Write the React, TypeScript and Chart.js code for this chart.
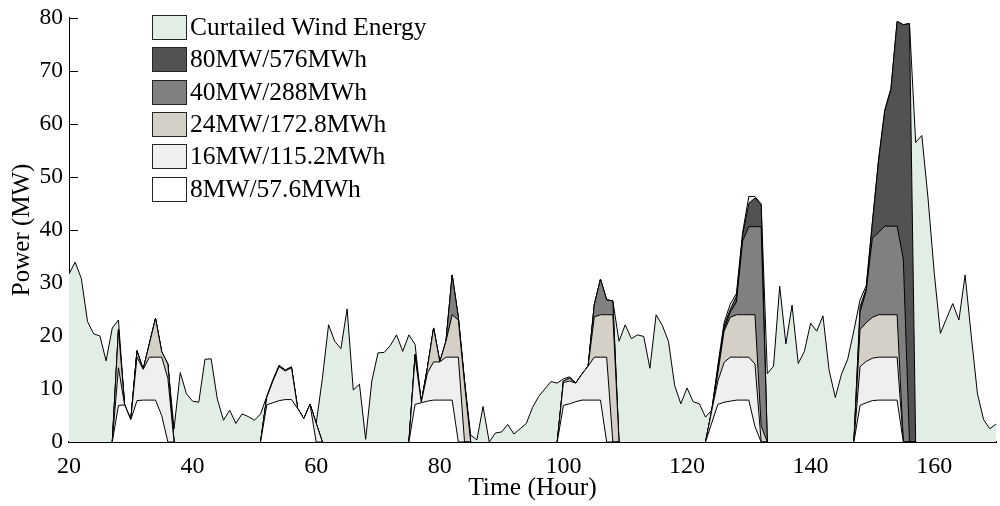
import React, { useEffect, useRef } from 'react';
import { Chart, registerables } from 'chart.js';
Chart.register(...registerables);

const FONT = "'Liberation Serif', 'Times New Roman', serif";

// Hours 20..170, one value per hour
const START_HOUR = 20;
const CURTAILED = [
  31.7, 33.9, 30.8, 22.7, 20.4, 20, 15.3, 21.5, 23, 7, // 20-29
  4.2, 17.3, 13.7, 18.5, 23.3, 17, 14.7, 2.5, 13.1, 9.1, // 30-39
  7.7, 7.5, 15.6, 15.7, 8.1, 4.1, 6.0, 3.5, 5.3, 4.8, // 40-49
  4.1, 5.3, 8.6, 11.8, 14.5, 13.6, 14.2, 6.3, 4.4, 7.1, // 50-59
  3.5, 12, 22.1, 19, 17.6, 25.1, 9.8, 10.9, 0.5, 11.5, // 60-69
  16.8, 16.9, 18.2, 20.2, 17.1, 20.2, 18.4, 7.5, 14, 21.5, // 70-79
  15.1, 19, 31.5, 23.5, 11.5, 1.3, 0.4, 6.7, 0, 1.7, // 80-89
  1.9, 3.3, 1.5, 2.5, 3.5, 6.5, 8.6, 10, 11.4, 11.1, // 90-99
  11.9, 12.3, 11.1, 12.8, 14.3, 25.9, 30.7, 26.8, 26.6, 19, // 100-109
  22.1, 19.5, 20.2, 19.9, 13.9, 24, 22, 19, 10.7, 7.2, // 110-119
  10.2, 7.6, 7.2, 4.7, 6.0, 14.5, 22.5, 26, 28, 39.5, // 120-129
  46.3, 46.3, 44.9, 12.9, 14.3, 29.4, 18.5, 25.8, 14.8, 17.1, // 130-139
  22.4, 20.9, 23.8, 13.5, 8.4, 12.8, 15.6, 21, 26.8, 29.5, // 140-149
  41.5, 53.3, 62.6, 66.7, 79.3, 78.7, 78.9, 56.5, 57.8, 46, // 150-159
  32, 20.5, 23.3, 26.1, 23, 31.5, 20, 9.1, 4.2, 2.5, // 160-169
  3.4, // 170
];

// Storage charging windows: each segment covers 11 hours starting at the given hour
const SEGMENT_STARTS = [27, 51, 75, 99, 123, 147];

const S8 = [
  [0, 6.9, 7.0, 4.2, 7.8, 7.9, 7.9, 7.9, 5.0, 0, 0],
  [0, 7.0, 7.4, 7.8, 8.0, 8.0, 6.3, 4.4, 7.1, 0, 0],
  [0, 7.1, 7.4, 7.7, 7.9, 7.9, 7.9, 7.9, 0, 0, 0],
  [0, 6.9, 7.2, 7.6, 7.9, 7.9, 7.9, 7.9, 0, 0, 0],
  [0, 3.6, 7.1, 7.5, 7.7, 7.9, 7.9, 7.9, 2.9, 0, 0],
  [0, 6.9, 7.4, 7.8, 7.9, 7.9, 7.9, 7.9, 0, 0, 0],
];
const S16 = [
  [0, 14, 7.0, 4.2, 16, 13.7, 16, 16, 16, 12, 0],
  [0, 8.4, 11.5, 14.2, 13.4, 14, 6.3, 4.4, 7.1, 3.5, 0],
  [0, 16, 7.5, 13, 15.1, 15.1, 16, 16, 16, 0, 0],
  [0, 11.2, 11.5, 11.1, 12.8, 14.3, 16, 16, 16, 0, 0],
  [0, 5.9, 11.5, 15, 16, 16, 16, 16, 14.7, 0, 0],
  [0, 14.2, 15.2, 15.8, 16, 16, 16, 16, 0, 0, 0],
];
const S24 = [
  [0, 21.2, 7.0, 4.2, 17.1, 13.7, 18.5, 23.3, 17, 14.7, 0],
  [0, 8.4, 11.5, 14.2, 13.4, 14, 6.3, 4.4, 7.1, 3.5, 0],
  [0, 16.5, 7.5, 14, 21.5, 15.1, 19, 24, 23, 11, 0],
  [0, 11.5, 12, 11.1, 12.8, 14.3, 23.6, 24, 24, 24, 0],
  [0, 5.9, 13, 20.9, 23.5, 24, 24, 24, 24, 3, 0],
  [0, 21.2, 22.5, 23.5, 24, 24, 24, 24, 0, 0, 0],
];
const S40 = [
  [0, 21.2, 7.0, 4.2, 17.1, 13.7, 18.5, 23.3, 17, 14.7, 0],
  [0, 8.4, 11.5, 14.2, 13.4, 14, 6.3, 4.4, 7.1, 3.5, 0],
  [0, 16.5, 7.5, 14, 21.5, 15.1, 19, 31.5, 23.5, 11.5, 0],
  [0, 11.5, 12, 11.1, 12.8, 14.3, 25.9, 30.7, 26.8, 26.6, 0],
  [0, 5.9, 13.5, 21.2, 24.5, 26.4, 37.9, 40.6, 40.6, 40.6, 0],
  [0, 24.5, 28.5, 38.5, 39.5, 40.7, 40.7, 40.7, 34.5, 0, 0],
];
const S80 = [
  [0, 21.2, 7.0, 4.2, 17.1, 13.7, 18.5, 23.3, 17, 14.7, 0],
  [0, 8.4, 11.5, 14.2, 13.4, 14, 6.3, 4.4, 7.1, 3.5, 0],
  [0, 16.5, 7.5, 14, 21.5, 15.1, 19, 31.5, 23.5, 11.5, 0],
  [0, 11.5, 12, 11.1, 12.8, 14.3, 25.9, 30.7, 26.8, 26.6, 0],
  [0, 5.9, 14, 22, 25, 27.5, 39, 45, 46, 44.7, 0],
  [0, 25.5, 28.9, 41.3, 53.1, 62.4, 66.5, 79.3, 78.7, 78.9, 0],
];

const SERIES_LABELS = [
  'Curtailed Wind Energy',
  '80MW/576MWh',
  '40MW/288MWh',
  '24MW/172.8MWh',
  '16MW/115.2MWh',
  '8MW/57.6MWh',
];
const SERIES_COLORS = [
  'rgb(226,238,229)',
  'rgb(82,82,82)',
  'rgb(128,128,128)',
  'rgb(212,208,200)',
  'rgb(239,239,239)',
  'rgb(255,255,255)',
];

const X_TICKS = [20, 40, 60, 80, 100, 120, 140, 160];
const Y_TICKS = [0, 10, 20, 30, 40, 50, 60, 70, 80];

function segmentPoints(segments: number[][]) {
  const pts: { x: number; y: number | null }[] = [];
  segments.forEach((vals, si) => {
    const s = SEGMENT_STARTS[si];
    vals.forEach((v, i) => pts.push({ x: s + i, y: v }));
    pts.push({ x: s + vals.length - 0.5, y: null });
  });
  return pts;
}

const inwardTicks = {
  id: 'inwardTicks',
  beforeDatasetsDraw(chart: any) {
    const ctx = chart.ctx;
    const ys = chart.scales.y;
    const left = chart.chartArea.left;
    ctx.save();
    ctx.strokeStyle = '#000';
    ctx.lineWidth = 1;
    ctx.beginPath();
    Y_TICKS.forEach((v) => {
      const y = Math.round(ys.getPixelForValue(v)) + 0.5;
      ctx.moveTo(left, y);
      ctx.lineTo(left + 9, y);
    });
    ctx.stroke();
    ctx.restore();
  },
};

const boxLegend = {
  id: 'boxLegend',
  afterDraw(chart: any) {
    const ctx = chart.ctx;
    ctx.save();
    ctx.font = `25.5px ${FONT}`;
    ctx.textBaseline = 'middle';
    ctx.textAlign = 'left';
    SERIES_LABELS.forEach((label, i) => {
      const top = 15 + i * 32.3;
      const bx = 152.5;
      const by = Math.round(top) + 0.5;
      ctx.fillStyle = SERIES_COLORS[i];
      ctx.fillRect(bx, by, 34, 24);
      ctx.strokeStyle = '#222';
      ctx.lineWidth = 1;
      ctx.strokeRect(bx, by, 34, 24);
      ctx.fillStyle = '#000';
      ctx.fillText(label, 190, by + 13);
    });
    ctx.restore();
  },
};

export default function App() {
  const ref = useRef<HTMLCanvasElement>(null);
  useEffect(() => {
    const canvas = ref.current;
    if (!canvas) return;
    const curtailedPts = CURTAILED.map((v, i) => ({ x: START_HOUR + i, y: v }));
    const storageSets = [S80, S40, S24, S16, S8];
    // Draw order: dataset 0 is drawn on top, so list smallest storage first
    const datasets: any[] = [];
    for (let k = storageSets.length - 1; k >= 0; k--) {
      datasets.push({
        label: SERIES_LABELS[k + 1],
        data: segmentPoints(storageSets[k]),
        backgroundColor: SERIES_COLORS[k + 1],
        borderColor: '#000',
        borderWidth: 1,
        fill: 'origin',
        pointRadius: 0,
        tension: 0,
        spanGaps: false,
      });
    }
    datasets.push({
      label: SERIES_LABELS[0],
      data: curtailedPts,
      backgroundColor: SERIES_COLORS[0],
      borderColor: '#000',
      borderWidth: 1,
      fill: 'origin',
      pointRadius: 0,
      tension: 0,
    });

    const chart = new Chart(canvas, {
      type: 'line',
      data: { datasets },
      options: {
        responsive: false,
        animation: false,
        devicePixelRatio: 1,
        layout: { padding: { top: 13, right: 4, bottom: 0, left: 0 } },
        plugins: { legend: { display: false }, tooltip: { enabled: false } },
        scales: {
          x: {
            type: 'linear',
            min: 20,
            max: 170,
            z: 1,
            afterBuildTicks: (s: any) => {
              s.ticks = X_TICKS.map((v) => ({ value: v }));
            },
            afterFit: (s: any) => {
              s.height = 64;
            },
            grid: { display: false, drawTicks: false },
            border: { display: true, color: '#000', width: 2 },
            ticks: {
              color: '#000',
              padding: 10,
              maxRotation: 0,
              autoSkip: false,
              font: { family: FONT, size: 24 },
            },
            title: {
              display: true,
              text: 'Time (Hour)',
              color: '#000',
              font: { family: FONT, size: 25.5, lineHeight: 1.2 },
              padding: { top: 0, bottom: 2 },
            },
          },
          y: {
            type: 'linear',
            min: 0,
            max: 80,
            afterBuildTicks: (s: any) => {
              s.ticks = Y_TICKS.map((v) => ({ value: v }));
            },
            afterFit: (s: any) => {
              s.width = 69;
            },
            grid: { display: false, drawTicks: false },
            border: { display: true, color: '#000', width: 1 },
            ticks: {
              color: '#000',
              padding: 6,
              font: { family: FONT, size: 23.5, lineHeight: 1 },
            },
            title: {
              display: true,
              text: 'Power (MW)',
              color: '#000',
              font: { family: FONT, size: 25, lineHeight: 1.2 },
              padding: { top: 7, bottom: 0 },
            },
          },
        },
      },
      plugins: [inwardTicks, boxLegend],
    } as any);
    return () => chart.destroy();
  }, []);

  return (
    <div style={{ position: 'absolute', left: 0, top: 0, width: 1000, height: 506, background: '#fff' }}>
      <canvas ref={ref} width={1000} height={506} style={{ width: 1000, height: 506, display: 'block' }} />
    </div>
  );
}
